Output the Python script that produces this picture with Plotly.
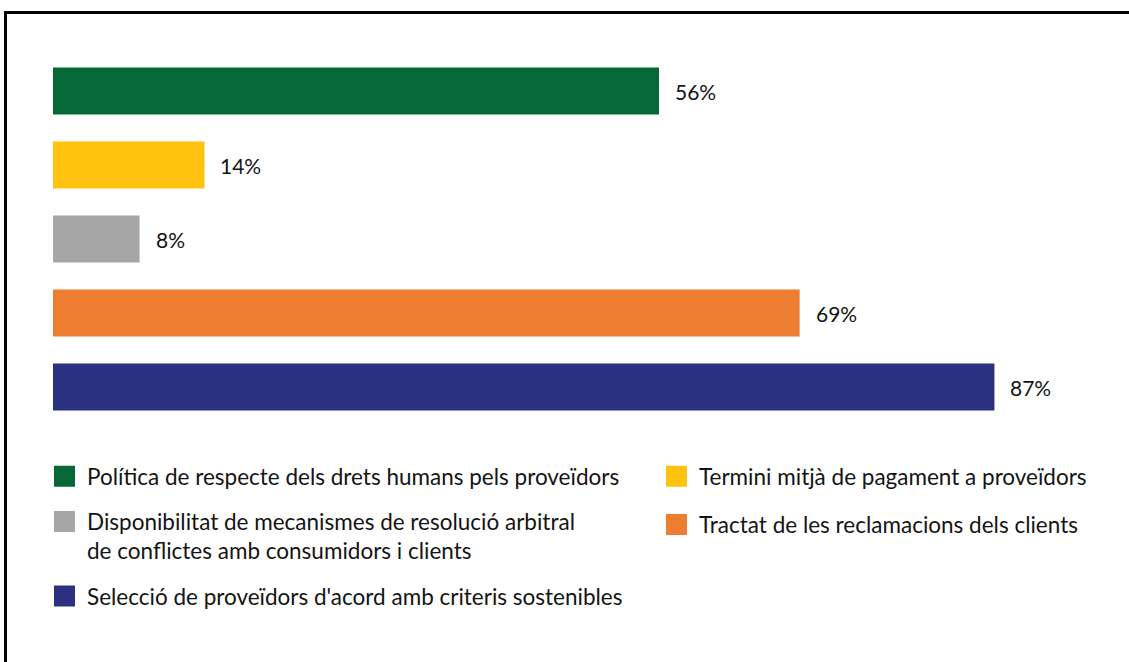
import plotly.graph_objects as go

# ── Dades ─────────────────────────────────────────────────────────────────────
categories = [
    "Política de respecte dels drets humans pels proveïdors",
    "Termini mitjà de pagament a proveïdors",
    "Disponibilitat de mecanismes de resolució arbitral<br>de conflictes amb consumidors i clients",
    "Tractat de les reclamacions dels clients",
    "Selecció de proveïdors d'acord amb criteris sostenibles",
]
valors = [56, 14, 8, 69, 87]
etiquetes = ["56%", "14%", "8%", "69%", "87%"]
colors = ["#056836", "#FFC20E", "#A6A6A6", "#ED7D31", "#2B3180"]
columna_llegenda = ["legend", "legend2", "legend", "legend2", "legend"]

FONT = "Lato"
TXT = "#141414"

fig = go.Figure()

# barres
fig.add_trace(go.Bar(
    x=valors, y=categories, orientation="h",
    marker=dict(color=colors, line=dict(width=0)),
    showlegend=False, hoverinfo="skip",
))

# entrades de llegenda (dues columnes)
for i, (nom, col, leg) in enumerate(zip(categories, colors, columna_llegenda)):
    fig.add_trace(go.Scatter(
        x=[None], y=[None], mode="markers", name=nom,
        marker=dict(symbol="square", size=16, color=col, line=dict(color=col, width=5)),
        legend=leg, legendgroup=str(i), showlegend=True,
    ))

# etiquetes de valor
for v, cat, txt in zip(valors, categories, etiquetes):
    fig.add_annotation(x=v, y=cat, text=txt, showarrow=False, xanchor="left",
                       xshift=14, font=dict(family=FONT, size=21, color=TXT))

leg_common = dict(
    xref="container", yref="container", xanchor="left", yanchor="top",
    orientation="v", font=dict(family=FONT, size=22.5, color=TXT),
    itemwidth=35, valign="top", bgcolor="rgba(0,0,0,0)",
    borderwidth=0, itemclick=False,
)

fig.update_layout(
    width=1129, height=662,
    margin=dict(l=53, r=48, t=54, b=238, autoexpand=False),
    paper_bgcolor="white", plot_bgcolor="white",
    bargap=0.364, barmode="overlay",
    font=dict(family=FONT, color=TXT),
    xaxis=dict(range=[0, 95], visible=False, fixedrange=True),
    yaxis=dict(autorange="reversed", showticklabels=False, showgrid=False,
               zeroline=False, showline=False, ticks="", fixedrange=True),
    legend=dict(x=42 / 1129, y=1 - 455 / 662, tracegroupgap=13, **leg_common),
    legend2=dict(x=654 / 1129, y=1 - 455 / 662, tracegroupgap=16, **leg_common),
    shapes=[dict(type="rect", xref="paper", yref="paper",
                 x0=(5.5 - 53) / 1028, x1=(1140 - 53) / 1028,
                 y0=(424 - 12.5) / 370, y1=(424 - 700) / 370,
                 line=dict(color="black", width=3), layer="above")],
)

# sense el marge per defecte del <body>
fig.write_html("out.html", config={"displayModeBar": False},
               post_script="document.body.style.margin = '0';")
